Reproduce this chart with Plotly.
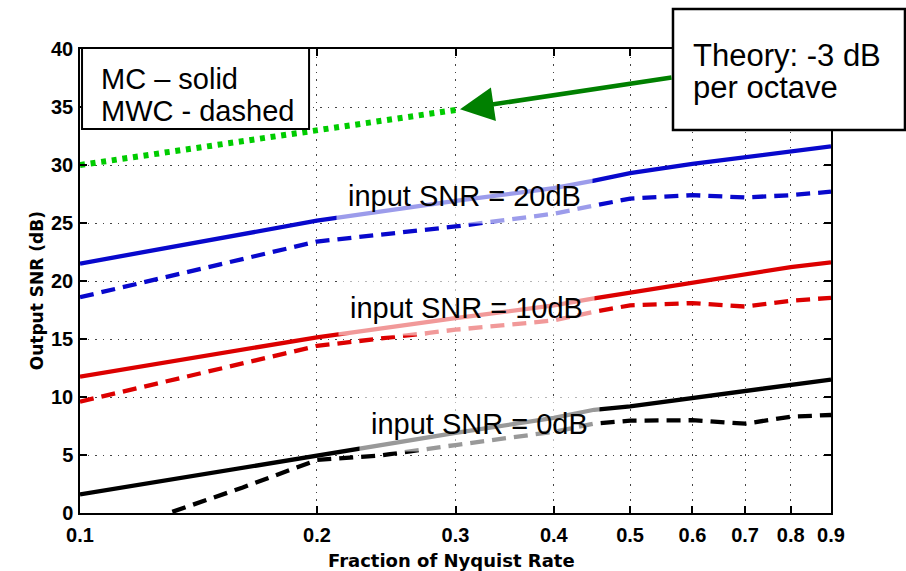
import math
import plotly.graph_objects as go

# Sampled fractions of the Nyquist rate
frac = [0.1, 0.2, 0.3, 0.4, 0.45, 0.5, 0.6, 0.7, 0.8, 0.9]

# Output SNR (dB), MC (solid) and MWC (dashed) for each input SNR
mc_20 = [21.5, 25.2, 26.9, 28.0, 28.65, 29.3, 30.1, 30.7, 31.15, 31.6]
mwc_20 = [18.6, 23.4, 24.7, 25.8, 26.5, 27.1, 27.4, 27.2, 27.4, 27.7]
mc_10 = [11.75, 15.15, 16.8, 17.9, 18.5, 19.0, 19.9, 20.6, 21.2, 21.6]
mwc_10 = [9.6, 14.4, 15.8, 16.6, 17.35, 17.9, 18.1, 17.8, 18.3, 18.55]
mc_0 = [1.6, 5.0, 6.9, 8.2, 8.9, 9.2, 9.9, 10.45, 11.0, 11.5]
frac_mwc_0 = [0.131, 0.161, 0.2, 0.24, 0.3, 0.4, 0.45, 0.5, 0.6, 0.7, 0.8, 0.9]
mwc_0 = [0.1, 2.2, 4.57, 4.95, 5.86, 7.0, 7.7, 7.96, 8.0, 7.7, 8.3, 8.45]

# Theoretical slope reference line
theory_x = [0.1, 0.304]
theory_y = [30.0, 34.8]

x_ticks = [0.1, 0.2, 0.3, 0.4, 0.5, 0.6, 0.7, 0.8, 0.9]
x_tick_text = ["0.1", "0.2", "0.3", "0.4", "0.5", "0.6", "0.7", "0.8", "0.9"]
y_ticks = [0, 5, 10, 15, 20, 25, 30, 35, 40]

labels = ["input SNR = 20dB", "input SNR = 10dB", "input SNR = 0dB"]
label_x = [0.308, 0.3097, 0.322]
label_y = [27.3, 17.65, 7.65]

BLUE = "#0808cc"
RED = "#dc0000"
BLACK = "#000000"
DASH = "14px,8px"

fig = go.Figure()

curves = [
    (frac, mc_20, BLUE, "solid"),
    (frac, mwc_20, BLUE, DASH),
    (frac, mc_10, RED, "solid"),
    (frac, mwc_10, RED, DASH),
    (frac, mc_0, BLACK, "solid"),
    (frac_mwc_0, mwc_0, BLACK, DASH),
]
for xs, ys, col, dash in curves:
    fig.add_trace(go.Scatter(x=xs, y=ys, mode="lines",
                             line=dict(color=col, width=4.3, dash=dash),
                             showlegend=False, hoverinfo="skip"))

fig.add_trace(go.Scatter(x=theory_x, y=theory_y, mode="lines",
                         line=dict(color="#00cc00", width=6, dash="5px,5.7px"),
                         showlegend=False, hoverinfo="skip"))

axis_common = dict(
    showline=True, linecolor="black", linewidth=1.5, mirror="ticks",
    ticks="inside", ticklen=7, tickwidth=1.5, tickcolor="black",
    showgrid=True, gridcolor="#444444", gridwidth=1.2, griddash="1.5px,6px",
    zeroline=False, automargin=False,
    tickfont=dict(family="Liberation Sans", size=20, color="black", weight="bold"),
)

fig.update_xaxes(type="log", range=[-1, -0.045757], tickvals=x_ticks,
                 ticktext=x_tick_text, ticklabelstandoff=3, **axis_common)
fig.update_yaxes(range=[0, 40], tickvals=y_ticks, ticklabelstandoff=1,
                 **axis_common)

# Axis titles
title_font = dict(family="DejaVu Sans", size=18, color="black", weight="bold")
fig.add_annotation(text="Fraction of Nyquist Rate", xref="paper", yref="paper",
                   x=0.495, y=-0.1013, xanchor="center", yanchor="middle",
                   showarrow=False, font=title_font)
fig.add_annotation(text="Output SNR (dB)", xref="paper", yref="paper",
                   x=-0.0573, y=0.48, xanchor="center", yanchor="middle",
                   textangle=-90, showarrow=False,
                   font=dict(family="DejaVu Sans", size=17, color="black", weight="bold"))

# Boxed notes
fig.add_shape(type="rect", xref="paper", yref="paper",
              x0=0.0027, x1=0.305, y0=0.8276, y1=1.0022,
              line=dict(color="black", width=2), fillcolor="white", layer="above")
fig.add_shape(type="rect", xref="paper", yref="paper",
              x0=0.7896, x1=1.0985, y0=0.8254, y1=1.0862,
              line=dict(color="black", width=2.5), fillcolor="white", layer="above")

note_font = dict(family="Liberation Sans", size=29, color="black")
theory_font = dict(family="Liberation Sans", size=31, color="black")
for txt, px, py, fnt in [("MC \u2013 solid", 0.0253, 0.935, note_font),
                         ("MWC - dashed", 0.0253, 0.866, note_font),
                         ("Theory: -3 dB", 0.8136, 0.987, theory_font),
                         ("per octave", 0.8136, 0.916, theory_font)]:
    fig.add_annotation(text=txt, xref="paper", yref="paper", x=px, y=py,
                       xanchor="left", yanchor="middle", showarrow=False,
                       font=fnt)

# Arrow from the theory note to the reference line
fig.add_annotation(x=math.log10(theory_x[-1]), y=theory_y[-1], xref="x", yref="y", text="",
                   showarrow=True, arrowhead=2, arrowsize=1.5, arrowwidth=4.5,
                   arrowcolor="#008000", ax=213, ay=-32, standoff=0)

# Curve labels on translucent backgrounds
for txt, lx, ly in zip(labels, label_x, label_y):
    fig.add_annotation(text=txt, x=math.log10(lx), y=ly,
                       xref="x", yref="y", showarrow=False,
                       font=note_font, bgcolor="rgba(255,255,255,0.6)",
                       borderpad=11)

fig.update_layout(
    width=906, height=571,
    margin=dict(l=80, r=75, t=49, b=58),
    paper_bgcolor="white", plot_bgcolor="white",
)

fig.write_html("out.html")
